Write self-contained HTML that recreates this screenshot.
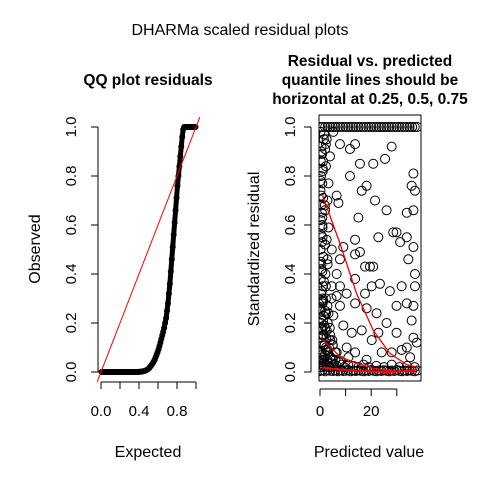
<!DOCTYPE html>
<html><head><meta charset="utf-8"><style>
body{margin:0;background:#fff}
svg{display:block;font-family:"Liberation Sans",sans-serif}
</style></head><body>
<svg id="c" width="480" height="480" xmlns="http://www.w3.org/2000/svg">
<rect width="480" height="480" fill="#fff"/>
<text x="240" y="35" font-size="16" text-anchor="middle">DHARMa scaled residual plots</text>
<text x="148" y="85" font-size="15.5" font-weight="bold" text-anchor="middle">QQ plot residuals</text>
<g font-size="15.5" font-weight="bold" text-anchor="middle">
<text x="370" y="66">Residual vs. predicted</text>
<text x="370" y="85">quantile lines should be</text>
<text x="370" y="104">horizontal at 0.25, 0.5, 0.75</text>
</g>
<text x="148" y="457" font-size="16" text-anchor="middle">Expected</text>
<text transform="translate(40,249) rotate(-90)" font-size="16" text-anchor="middle">Observed</text>
<text x="369" y="457" font-size="16" text-anchor="middle">Predicted value</text>
<text transform="translate(259,249) rotate(-90)" font-size="16" text-anchor="middle">Standardized residual</text>
<g id="qq"></g>
<g id="rv"></g>
</svg>
<script>
const qqExpectedTicks=[0,0.2,0.4,0.6,0.8,1.0];
const qqExpectedLabels=["0.0","","0.4","","0.8",""];
const yTicks=[0,0.2,0.4,0.6,0.8,1.0];
const yTickLabels=["0.0","0.2","0.4","0.6","0.8","1.0"];
const qqObserved=[0,0,0,0,0,0,0,0,0,0,0,0,0,0,0,0,0,0,0,0,0,0,0,0,0,0,0,0,0,0,0,0,0,0,0,0,0,0,0,0,0.001,0.001,0.002,0.002,0.003,0.004,0.005,0.007,0.009,0.012,0.015,0.02,0.025,0.03,0.036,0.043,0.05,0.06,0.07,0.08,0.092,0.105,0.12,0.135,0.15,0.165,0.18,0.2,0.22,0.25,0.28,0.32,0.36,0.41,0.46,0.51,0.56,0.61,0.66,0.71,0.76,0.8,0.84,0.88,0.92,0.96,0.99,1,1,1,1,1,1,1,1,1,1,1,1,1];
const predTicks=[0,10,20,30];
const predTickLabels=["0","","20",""];
const midPred=[5.2,7.8,11.7,13.7,15.6,20.8,25.4,28.0,11.7,16.3,18.2,21.5,6.5,7.2,15.0,13.7,15.6,17.6,20.8,22.8,28.6,29.9,33.9,36.5,37.1,34.5,31.3,9.1,7.8,6.5,13.7,13.7,7.8,13.7,18.2,22.1,26.0,29.9,33.9,36.5,37.1,35.8,36.5,33.9,29.9,22.8,20.2,16.3,12.4,10.4,6.5,13.7,18.2,24.1,28.0,31.9,35.2,37.8,5.2,6.5,4.6,9.1,11.1,3.9,2.6,3.3,2.9,2.3,2.0,3.9,3.3,2.9,2.3,3.3,2.6,2.3,3.9,2.0,2.3,4.6,26.0,1.3,33.9,35.8,36.5,37.1,36.5,31.9,27.3,23.4,19.5,20.2,17.6,10.4,7.8];
const midResid=[0.98,0.93,0.91,0.93,0.85,0.85,0.87,0.92,0.80,0.74,0.76,0.70,0.72,0.69,0.63,0.54,0.49,0.43,0.43,0.55,0.57,0.57,0.55,0.51,0.40,0.46,0.53,0.51,0.46,0.40,0.48,0.38,0.27,0.28,0.26,0.24,0.20,0.27,0.28,0.27,0.35,0.21,0.14,0.10,0.16,0.16,0.13,0.17,0.16,0.10,0.08,0.08,0.05,0.08,0.08,0.09,0.06,0.12,0.23,0.31,0.35,0.19,0.06,0.13,0.54,0.59,0.70,0.84,0.91,0.88,0.77,0.46,0.35,0.24,0.17,0.10,0.02,0.66,0.93,0.50,0.66,0.29,0.65,0.76,0.81,0.74,0.66,0.35,0.33,0.36,0.43,0.35,0.32,0.32,0.35];
const leftPred=[0.2,0.8,0.4,1.2,0.3,0.9,0.5,1.4,0.2,0.7,0.4,1.1,0.3,0.9,0.6,1.3,0.2,0.8,0.4,1.0,0.3,0.7,0.5,1.2,0.2,0.9,0.4,1.1,0.3,0.8,0.6,1.5,0.2,0.7,0.4,1.0,0.3,0.9,0.5,1.2,0.2,0.8];
const leftResid=[0.02,0.05,0.08,0.11,0.14,0.17,0.2,0.23,0.26,0.29,0.32,0.35,0.38,0.41,0.44,0.47,0.5,0.53,0.56,0.59,0.62,0.65,0.68,0.71,0.74,0.77,0.8,0.83,0.86,0.89,0.92,0.95,0.98,0.12,0.22,0.3,0.45,0.6,0.72,0.86,0.04,0.07];
const clusterPred=[0.5,1.0,1.6,2.2,0.8,1.4,2.0,2.8,0.6,1.2,1.8,2.5,3.2,0.4,1.0,1.7,2.4,3.5,4.2,0.7,1.5,2.3,3.0,4.0,5.0,0.5,1.3,2.1,2.9,3.8,4.8,6.0,1.0,2.0,3.0,4.5,0.9,1.9,0.3,1.1,2.6,0.6,1.6];
const clusterResid=[0.03,0.06,0.04,0.09,0.12,0.15,0.07,0.05,0.18,0.21,0.11,0.14,0.08,0.25,0.28,0.19,0.24,0.1,0.06,0.33,0.37,0.3,0.2,0.15,0.11,0.42,0.47,0.4,0.27,0.18,0.13,0.05,0.55,0.52,0.44,0.3,0.63,0.68,0.78,0.82,0.95,0.9,0.97];
const topPred=[0,1,2,3,4,5,6,7,8,9,10,11,12,13,14,15,16,17,18,19,20,21,22,23,24,25,26,27,28,29,30,31,32,33,34,35,36,37,38];
const topResid=[1,1,1,1,1,1,1,1,1,1,1,1,1,1,1,1,1,1,1,1,1,1,1,1,1,1,1,1,1,1,1,1,1,1,1,1,1,1,1];
const lowPred=[0,1,2,3,4,5,6,7,8,9,10,11,12,13,14,15,16,17,18,19,20,21,22,23,24,25,26,27,28,29,30,31,32,33,34,35,36,37,38,0.5,1.5,2.5,3.5,4.5,5.5,6.5,7.5,8.5,9.5,11,13,15,17,19,22,25,28,31,34,37,1,2,3,4,5,6,1,2,3,4,2,3,5,8];
const lowResid=[0.004,0.006,0.003,0.008,0.005,0.004,0.007,0.003,0.006,0.004,0.005,0.008,0.003,0.006,0.004,0.007,0.005,0.003,0.006,0.004,0.008,0.005,0.003,0.006,0.004,0.007,0.005,0.003,0.006,0.004,0.008,0.005,0.003,0.006,0.004,0.007,0.005,0.003,0.006,0.02,0.025,0.03,0.02,0.035,0.03,0.025,0.04,0.03,0.02,0.03,0.025,0.02,0.03,0.02,0.025,0.02,0.03,0.02,0.025,0.02,0.05,0.07,0.09,0.06,0.11,0.08,0.15,0.18,0.2,0.13,0.25,0.04,0.05,0.045];
const quantPred=[1,7.8,14.3,20.8,27.3,33.9,37.8];
const q75=[0.72,0.525,0.32,0.17,0.076,0.03,0.02];
const q50=[0.133,0.063,0.035,0.015,0.005,0.002,0.0];
const q25=[0.018,0.01,0.005,0.002,0.0,0.004,0.01];

const NS="http://www.w3.org/2000/svg";
function mk(p,t,a){const e=document.createElementNS(NS,t);for(const k in a)e.setAttribute(k,a[k]);p.appendChild(e);return e;}
const yS=v=>372-v*245;
const xQ=e=>101+e*95;
const xP=p=>320+p*2.56;
const TF=15;

// QQ plot
const qq=document.getElementById('qq');
let l=mk(qq,'line',{x1:xQ(0),x2:xQ(1),y1:382,y2:382,stroke:'#000'});

qqExpectedTicks.forEach((t,i)=>{
  const tk=mk(qq,'line',{x1:xQ(t),x2:xQ(t),y1:382,y2:389,stroke:'#000'});
  
  if(qqExpectedLabels[i]){const tx=mk(qq,'text',{x:xQ(t),y:416,'font-size':TF,'text-anchor':'middle'});tx.textContent=qqExpectedLabels[i];
  }
});
l=mk(qq,'line',{x1:98,x2:98,y1:yS(0),y2:yS(1),stroke:'#000'});

yTicks.forEach((t,i)=>{
  const tk=mk(qq,'line',{x1:91,x2:98,y1:yS(t),y2:yS(t),stroke:'#000'});
  
  const tx=mk(qq,'text',{transform:`translate(76,${yS(t)}) rotate(-90)`,'font-size':TF,'text-anchor':'middle'});tx.textContent=yTickLabels[i];
  
});
const n=qqObserved.length;
let d='';qqObserved.forEach((v,i)=>{d+=(i?'L':'M')+xQ((i+0.5)/n)+','+yS(v);});
const band=mk(qq,'path',{d:d,fill:'none',stroke:'#000','stroke-width':5,'stroke-linejoin':'round'});

qqObserved.forEach((v,i)=>{
  const c=mk(qq,'circle',{cx:xQ((i+0.5)/n),cy:yS(v),r:2.5,fill:'none',stroke:'#000','stroke-width':1});
  
});
const ref=mk(qq,'line',{x1:xQ(-0.04),y1:yS(-0.04),x2:xQ(1.04),y2:yS(1.04),stroke:'#f00','stroke-width':1});


// Residual plot
const rv=document.getElementById('rv');
const cp=mk(rv,'clipPath',{id:'cl'});mk(cp,'rect',{x:319,y:115,width:102,height:266});
const pts=mk(rv,'g',{'clip-path':'url(#cl)'});

function dots(px,ry){px.forEach((p,i)=>{
  const c=mk(pts,'circle',{cx:xP(p),cy:yS(ry[i]),r:4.5,fill:'none',stroke:'#000','stroke-width':1});
  });}
dots(midPred,midResid);dots(leftPred,leftResid);dots(clusterPred,clusterResid);dots(topPred,topResid);dots(lowPred,lowResid);
[q75,q50,q25].forEach((q,k)=>{
  let dd='';q.forEach((v,i)=>{dd+=(i?'L':'M')+xP(quantPred[i])+','+yS(v);});
  const p=mk(pts,'path',{d:dd,fill:'none',stroke:'#f00','stroke-width':k==2?2:1.3});
  
});
const bx=mk(rv,'rect',{x:319,y:115,width:102,height:266,fill:'none',stroke:'#000'});

l=mk(rv,'line',{x1:xP(0),x2:xP(30),y1:389,y2:389,stroke:'#000'});

predTicks.forEach((t,i)=>{
  const tk=mk(rv,'line',{x1:xP(t),x2:xP(t),y1:389,y2:396,stroke:'#000'});
  
  if(predTickLabels[i]){const tx=mk(rv,'text',{x:xP(t),y:416,'font-size':TF,'text-anchor':'middle'});tx.textContent=predTickLabels[i];
  }
});
l=mk(rv,'line',{x1:311,x2:311,y1:yS(0),y2:yS(1),stroke:'#000'});

yTicks.forEach((t,i)=>{
  const tk=mk(rv,'line',{x1:304,x2:311,y1:yS(t),y2:yS(t),stroke:'#000'});
  
  const tx=mk(rv,'text',{transform:`translate(295,${yS(t)}) rotate(-90)`,'font-size':TF,'text-anchor':'middle'});tx.textContent=yTickLabels[i];
  
});
</script>
</body></html>
